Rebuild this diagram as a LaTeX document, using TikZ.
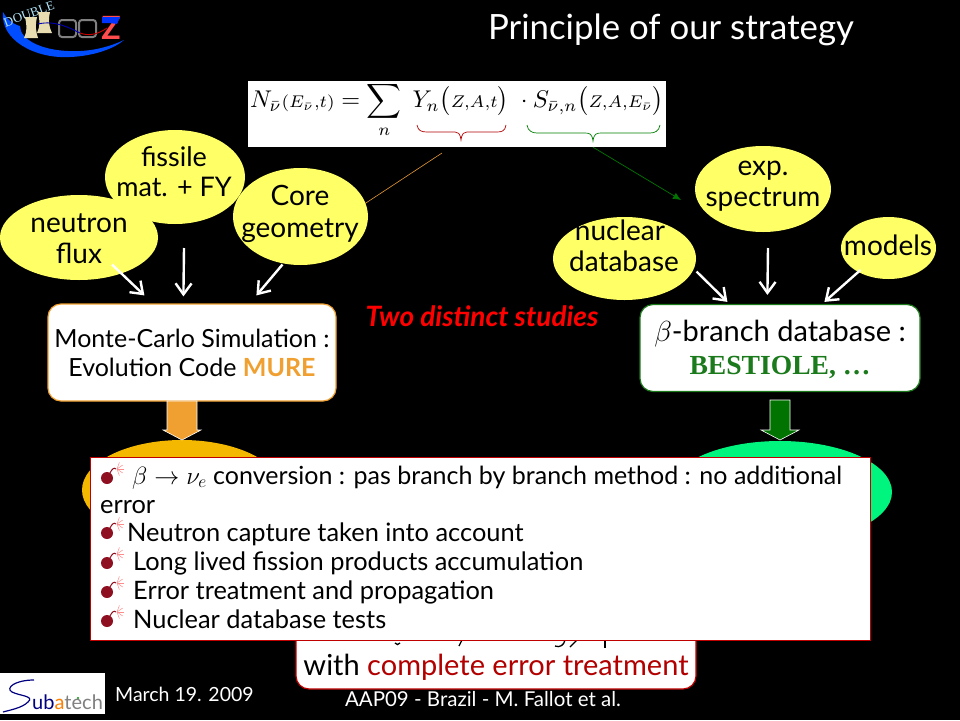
\documentclass[tikz,border=0pt]{standalone}
\usepackage{fix-cm}
\usepackage{fontspec}
\setmainfont{Lato}
\newfontfamily\timesf{Liberation Serif}
\usetikzlibrary{shapes.geometric,calc,arrows.meta,decorations.pathreplacing}
\definecolor{yel}{HTML}{FFFF66}
\definecolor{orng}{HTML}{F5B800}
\definecolor{mure}{HTML}{F0A030}
\definecolor{grn}{HTML}{1B7A1B}
\definecolor{mint}{HTML}{00F57F}
\definecolor{redb}{HTML}{C00000}
\definecolor{bombc}{HTML}{8E1020}
\definecolor{cream}{HTML}{E8DDB0}
\newcommand{\fs}[1]{\fontsize{#1}{#1}\selectfont}
\newcommand{\fsl}[2]{\fontsize{#1}{#2}\selectfont}
\tikzset{
  x=1pt,y=-1pt,
  inp/.style={ellipse,fill=yel,draw=none,inner sep=0pt},
  inptxt/.style={inner sep=0pt,align=center,text=black,font=\fsl{28}{31}},
  wbox/.style={rectangle,rounded corners=13pt,fill=white,line width=1.2pt,inner sep=0pt,align=center,text=black},
  whitearrow/.style={draw=white,line width=2.4pt,-{Straight Barb[length=11pt,width=16pt,line width=2.4pt]}},
  overlaytxt/.style={anchor=base west,inner sep=0pt,text=black,font=\fs{25.4}},
  bomb/.pic={
    \fill[bombc] (0,0) circle (6);
    \draw[bombc,line width=1pt] (3,-5) .. controls (5,-9) and (7,-11) .. (9,-9);
    \foreach \a in {-70,-35,0,35,70}{\draw[red!45!white,line width=.5pt] (10,-9) -- ++(\a:7);}
  }
}
\begin{document}
\begin{tikzpicture}
\useasboundingbox (0,0) rectangle (960,720);
\fill[black] (0,0) rectangle (960,720);

% Double Chooz logo
\fill[blue!70!cyan] (3,12) .. controls (0,40) and (35,59) .. (70,57) .. controls (95,56) and (115,48) .. (124,40) .. controls (105,49) and (85,52) .. (68,51) .. controls (42,50) and (20,40) .. (20,26) .. controls (12,24) and (6,18) .. (3,12);
\node[rotate=20,text=cyan!30!white,inner sep=0pt,font=\timesf\fs{13}] (dbl) at (29,14) {DOUBLE};
\fill[cream] (25,17) -- (37,17) .. controls (35,26) and (36,32) .. (38,38) -- (24,38) .. controls (27,32) and (27,26) .. (25,17) -- cycle;
\fill[cream] (38,12) -- (50,12) .. controls (48,21) and (49,27) .. (52,33) -- (37,33) .. controls (40,27) and (40,21) .. (38,12) -- cycle;
\draw[gray,line width=2pt,rounded corners=3pt,fill=black] (59,20) rectangle (76,37);
\draw[gray,line width=2pt,rounded corners=3pt,fill=black] (79,20) rectangle (96,37);
\draw[blue!70!black,line width=.9pt] (38,24) .. controls (55,20) and (70,28) .. (80,33);
\draw[red!80!black,line width=.9pt] (80,33) .. controls (88,36) and (97,35) .. (107,28);
\node[inner sep=0pt,font=\bfseries\fs{32}] (zz) at (111,28) {\textcolor{red!70!white}{Z}};
\fill[blue!80!cyan] (102,17) -- (120,17) -- (117,24) -- (110,23) -- (102,23) -- cycle;

% title
\node[text=white,inner sep=0pt,font=\fs{34.8}] (title) at (671,30) {Principle of our strategy};

% formula
\node[fill=white,minimum width=418pt,minimum height=66pt,inner sep=0pt] (formula) at (457,114) {};
\node[inner sep=0pt,scale=2.42,text=black] (eq) at (457,110) {$N_{\bar\nu}\scriptstyle(E_{\bar\nu},t)\displaystyle=\sum_n\; Y_n\bigl({\scriptstyle Z,A,t}\bigr)\;\cdot S_{\bar\nu,n}\bigl({\scriptstyle Z,A,E_{\bar\nu}}\bigr)$};
\draw[red!70!black,line width=.7pt] (417,125) .. controls (418,131) and (422,132) .. (427,132) -- (455,132) .. controls (458,132) and (460,133) .. (461,140) .. controls (462,133) and (464,132) .. (467,132) -- (497,132) .. controls (502,132) and (505,131) .. (506,125);
\draw[green!50!black,line width=.7pt] (527,125) .. controls (528,131) and (532,133) .. (537,133) -- (585,133) .. controls (590,133) and (592,134) .. (593,141) .. controls (594,134) and (596,133) .. (601,133) -- (650,133) .. controls (655,133) and (659,131) .. (660,125);

% orange / green hairlines
\coordinate (orangestart) at (442,153);
\coordinate (orangeend) at (340,220);
\draw[mure!80!brown,line width=.6pt] (orangestart) -- (orangeend);
\draw[green!45!black,line width=.7pt,-{Latex[length=8pt,width=7pt]}] ($(formula.south)+(136,0)$) -- (681,200);

% input ellipses left
\node[inp,minimum width=140pt,minimum height=94pt] (fissile) at (175,177) {};
\node[inptxt,font=\fsl{27}{30}] (fissiletxt) at (174,172) {fissile\\mat. + FY};
\node[inp,minimum width=135pt,minimum height=97pt] (core) at (300.5,216.5) {};
\node[inptxt,font=\fsl{28}{32}] (coretxt) at (300,214) {Core\\geometry};
\node[inp,minimum width=158pt,minimum height=85pt] (neutron) at (79,237.5) {};
\node[inptxt] (neutrontxt) at (79,239) {neutron\\flux};

% input ellipses right
\node[inp,minimum width=143pt,minimum height=83pt] (nuclear) at (624.5,258.5) {};
\node[inptxt] (nucleartxt) at (624,246) {nuclear\hspace*{8pt}\\database};
\node[inp,minimum width=136pt,minimum height=86pt] (exp) at (763,189) {};
\node[inptxt] (exptxt) at (763,186) {exp.\\spectrum};
\node[inp,minimum width=95pt,minimum height=62pt] (models) at (888.5,248) {};
\node[inptxt] (modelstxt) at (888,245) {models};

% main boxes
\node[wbox,draw=mure,minimum width=288pt,minimum height=97pt,font=\fsl{25}{29}] (mc) at (192,352.5) {Monte-Carlo Simulation :\\Evolution Code \textcolor{mure}{\textbf{MURE}}};
\node[wbox,draw=grn,minimum width=280pt,minimum height=87pt] (beta) at (780,348) {};
\node[inner sep=0pt,align=center,text=black] (betatxt) at (780,349) {{\fsl{29}{35}$\beta$-branch database :}\\[8pt]{\timesf\bfseries\color{grn}\fs{27.6}BESTIOLE, \dots}};

\node[text=red,inner sep=0pt,font=\itshape\bfseries\fs{28}] (two) at (482,316) {Two distinct studies};

% white arrows
\draw[whitearrow] ($(neutron)+(33,27)$) -- ($(mc.north west)+(97,-8)$);
\draw[whitearrow] ($(fissile)+(9,71)$) -- ($(mc.north west)+(136,-7)$);
\draw[whitearrow] ($(core)+(-18,48)$) -- ($(mc.north west)+(209,-8)$);
\draw[whitearrow] ($(nuclear)+(72,13)$) -- ($(beta.north west)+(88,-2)$);
\draw[whitearrow] ($(exp)+(5,59)$) -- ($(beta.north west)+(128,-9)$);
\draw[whitearrow] ($(models)+(-28,22)$) -- ($(beta.north west)+(185,-2)$);

% result ellipses (behind overlay)
\node[ellipse,fill=orng,minimum width=200pt,minimum height=100pt,inner sep=0pt] (yield) at (182,490) {};
\node[ellipse,fill=mint,minimum width=224pt,minimum height=102pt,inner sep=0pt] (sbranch) at (780,492) {};

% fat arrows
\fill[mure,draw=white,line width=.6pt] (167,401) -- (197,401) -- (197,430) -- (201,430) -- (182,440) -- (163,430) -- (167,430) -- cycle;
\fill[green!45!black,draw=white,line width=.6pt] (770,400) -- (790,400) -- (790,430) -- (799,430) -- (780,440) -- (761,430) -- (770,430) -- cycle;

% bottom box
\node[wbox,draw=redb,minimum width=400pt,minimum height=110pt] (result) at (496,634) {};
\node[anchor=base,inner sep=0pt,text=black,font=\fs{29}] (errtxt) at (496,675) {with \textcolor{red!70!black}{complete error treatment}};
% tails of the line hidden by the overlay box
\begin{scope}[draw=black,line width=1.3pt]
\draw (395,643) .. controls (396,645) and (399,645) .. (400,643);
\draw (462,640) -- (459,646);
\draw (555,646) .. controls (560,648) and (564,645) .. (565,640);
\draw (577,640) -- (570,647);
\draw (605,640) -- (605,648);
\end{scope}

% overlay box
\node[rectangle,fill=white,draw=redb,line width=1pt,minimum width=780pt,minimum height=183pt,inner sep=0pt] (over) at (480,548.5) {};
\pic at (107,478) {bomb};
\pic at (107,533) {bomb};
\pic at (107,563) {bomb};
\pic at (107,592) {bomb};
\pic at (107,621) {bomb};
\node[overlaytxt,font=\fs{25}] (l1) at (132,484) {$\beta\to\nu_e$ conversion : pas branch by branch method : no additional};
\node[overlaytxt] (l1b) at (100,513) {error};
\node[overlaytxt] (l2) at (127,541) {Neutron capture taken into account};
\node[overlaytxt] (l3) at (133,570) {Long lived fission products accumulation};
\node[overlaytxt] (l4) at (133,599) {Error treatment and propagation};
\node[overlaytxt] (l5) at (133,628) {Nuclear database tests};

% footer
\fill[white] (0,673) rectangle (105,714);
\draw[blue!50!black,line width=1.2pt] (34,680) .. controls (15,680) and (5,688) .. (12,692) .. controls (20,696) and (35,696) .. (28,702) .. controls (22,708) and (10,710) .. (3,712);
\fill[green!60!black] (78,698) circle (1.2);
\node[anchor=base west,inner sep=0pt,font=\fs{20}] (sub) at (32,709) {\textcolor{blue!50!black}{ub}\textcolor{orange}{a}\textcolor{gray}{tech}};
\node[anchor=base west,inner sep=0pt,text=white,font=\fs{19.5}] (date) at (115,701) {March 19. 2009};
\node[text=white,inner sep=0pt,font=\fs{20.5}] (aap) at (483,699) {AAP09 - Brazil - M. Fallot et al.};
\end{tikzpicture}
\end{document}
